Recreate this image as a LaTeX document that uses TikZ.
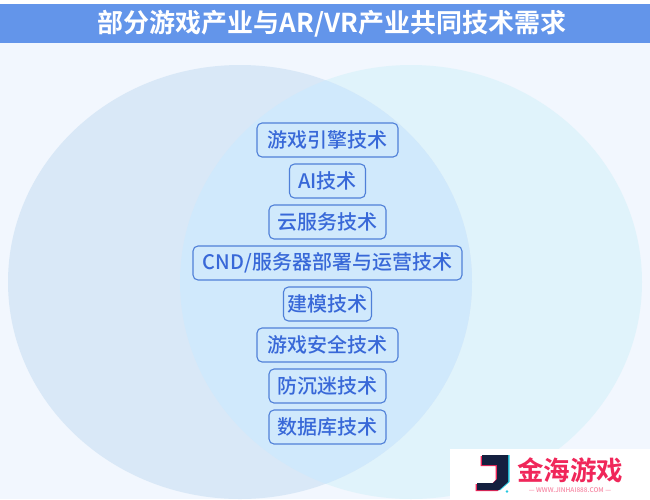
\documentclass[tikz,border=0pt]{standalone}
\usepackage{fontspec}
\setmainfont{Noto Sans CJK SC Medium}
\newfontfamily\cjkb{Noto Sans CJK SC Bold}
\definecolor{hdr}{HTML}{6395EA}
\definecolor{bgc}{HTML}{F2F7FE}
\definecolor{lc}{HTML}{D9E8F7}
\definecolor{rc}{HTML}{E0F3FB}
\definecolor{mc}{HTML}{D0E9FC}
\definecolor{bd}{HTML}{4F80D8}
\definecolor{tx}{HTML}{3868D8}
\definecolor{red1}{HTML}{F0275A}
\definecolor{nav}{HTML}{14203F}
\definecolor{cy}{HTML}{22C8E0}
\tikzset{
  tag/.style={draw=bd,line width=1.1pt,rounded corners=5pt,minimum height=34pt,inner sep=0pt,text=tx,font=\fontsize{20}{22}\selectfont,anchor=center},
  jshape/.pic={\fill[pic actions] (482,455) -- (508,455) -- (508,482) -- (499,490) -- (477,490) -- (477,483) -- (493,483) -- (497,479) -- (497,465) -- (482,465) -- cycle;},
}
\begin{document}
\begin{tikzpicture}[x=1pt,y=-1pt]
\useasboundingbox (0,0) rectangle (650,499);
\fill[white] (0,0) rectangle (650,499);
\fill[bgc] (0,43) rectangle (650,499);
\fill[hdr] (0,4) rectangle (650,43);
\fill[rc] (411,282) ellipse [x radius=231, y radius=217];
\fill[lc] (240,282) ellipse [x radius=232, y radius=217];
\begin{scope}
\clip (411,282) ellipse [x radius=231, y radius=217];
\fill[mc] (240,282) ellipse [x radius=232, y radius=217];
\end{scope}
\node[text=white,font=\cjkb\fontsize{26}{28}\selectfont] (title) at (332,24) {部分游戏产业与AR/VR产业共同技术需求};
\node[tag,minimum width=141pt] (a) at (327.5,140) {游戏引擎技术};
\node[tag,minimum width=76pt] (b) at (327.5,181) {AI技术};
\node[tag,minimum width=117pt] (c) at (327.5,222) {云服务技术};
\node[tag,minimum width=269pt] (d) at (327.5,263) {CND/服务器部署与运营技术};
\node[tag,minimum width=88pt] (e) at (327.5,304) {建模技术};
\node[tag,minimum width=141pt] (f) at (327.5,345) {游戏安全技术};
\node[tag,minimum width=117pt] (g) at (327.5,386) {防沉迷技术};
\node[tag,minimum width=117pt] (h) at (327.5,427) {数据库技术};
\fill[white] (450,449) rectangle (650,499);
\pic[fill=cy] at (1.5,0) {jshape};
\pic[fill=red1] at (-1.5,1) {jshape};
\pic[fill=nav] at (0,0) {jshape};
\fill[cy] (507,491.5) circle (1.4);
\node[text=red1,font=\cjkb\fontsize{26.5}{28}\selectfont,anchor=west,inner sep=0pt] (logo) at (517,470) {金海游戏};
\node[text=red1!55,font=\fontsize{6.5}{7}\selectfont,inner sep=0pt] (url) at (570,490) {— WWW.JINHAI888.COM —};
\end{tikzpicture}
\end{document}
